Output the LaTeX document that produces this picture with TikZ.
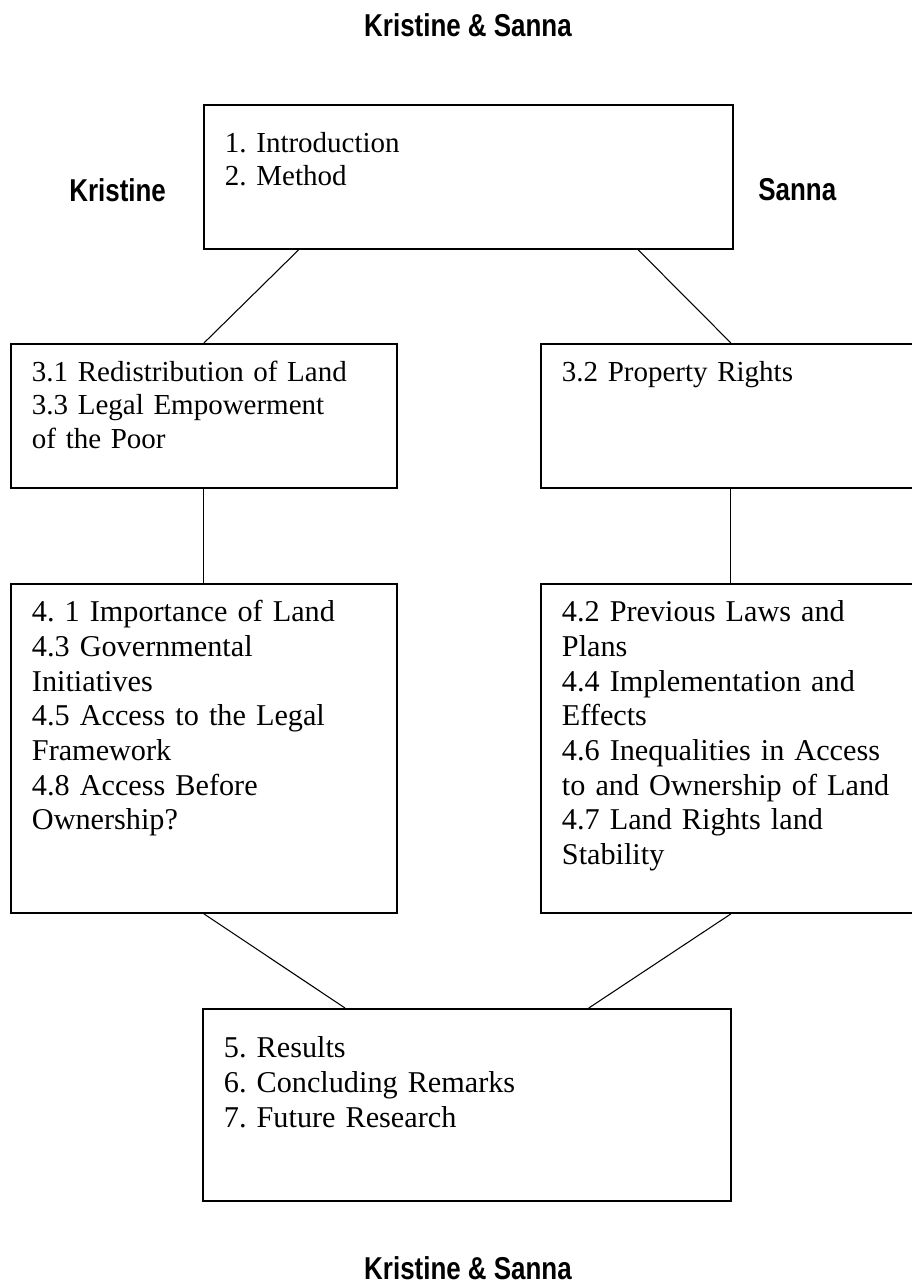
\documentclass[tikz,border=0pt]{standalone}
\usepackage{fontspec}
\setmainfont{Liberation Serif}
\newfontfamily\headfont[FakeStretch=0.82]{Liberation Sans}
\usetikzlibrary{calc}
\frenchspacing

\begin{document}
\begin{tikzpicture}[
		x=0.02cm, y=-0.02cm,
		section box/.style={draw, line width=1.1pt, anchor=north west, align=left, inner xsep=0.42cm, inner ysep=0pt},
		upper text/.style={font=\fontsize{16.5}{18.8}\selectfont},
		lower text/.style={font=\fontsize{17.2}{19.7}\selectfont},
		name tag/.style={font=\headfont\bfseries\fontsize{18}{21}\selectfont, inner sep=0pt},
		link/.style={line width=0.6pt}
		]
		\useasboundingbox (0,0) rectangle (912,1286);
		
		% Who writes what
		\node[name tag] (ttop) at (468,25) {Kristine \& Sanna};
		\node[name tag, anchor=west] (kris) at (69,190) {Kristine};
		\node[name tag, anchor=west] (sanna) at (758,190) {Sanna};
		\node[name tag] (tbot) at (468,1268) {Kristine \& Sanna};
		
		% Chapters 1-2
		\node[section box, upper text, text width=9.74cm, text height=0.96cm, text depth=1.92cm] (top) at (203,104) {
			1. Introduction\\
			2. Method
		};
		
		% Chapter 3
		\node[section box, upper text, text width=6.88cm, text height=0.76cm, text depth=2.12cm] (b31) at (10,343) {
			3.1 Redistribution of Land\\
			3.3 Legal Empowerment\\
			of the Poor
		};
		\node[section box, upper text, text width=6.76cm, text height=0.76cm, text depth=2.12cm] (b32) at (540,343) {
			3.2 Property Rights
		};
		
		% Chapter 4
		\node[section box, lower text, text width=6.88cm, text height=0.76cm, text depth=5.82cm] (b4l) at (10,583) {
			4. 1 Importance of Land\\
			4.3 Governmental\\
			Initiatives\\
			4.5 Access to the Legal\\
			Framework\\
			4.8 Access Before\\
			Ownership?
		};
		\node[section box, lower text, text width=6.76cm, text height=0.76cm, text depth=5.82cm] (b4r) at (540,583) {
			4.2 Previous Laws and\\
			Plans\\
			4.4 Implementation and\\
			Effects\\
			4.6 Inequalities in Access\\
			to and Ownership of Land\\
			4.7 Land Rights land\\
			Stability
		};
		
		% Chapters 5-7
		\node[section box, lower text, text width=9.72cm, text height=0.98cm, text depth=2.86cm] (b5) at (202,1008) {
			5. Results\\
			6. Concluding Remarks\\
			7. Future Research
		};
		
		% Links between the parts
		\draw[link] ($(top.south west)!.18!(top.south east)$) -- (b31.north);
		\draw[link] ($(top.south west)!.82!(top.south east)$) -- (b32.north);
		\draw[link] (b31.south) -- (b4l.north);
		\draw[link] (b32.south) -- (b4r.north);
		\draw[link] (b4l.south) -- ($(b5.north west)!.27!(b5.north east)$);
		\draw[link] (b4r.south) -- ($(b5.north west)!.73!(b5.north east)$);
		
	\end{tikzpicture}
\end{document}
